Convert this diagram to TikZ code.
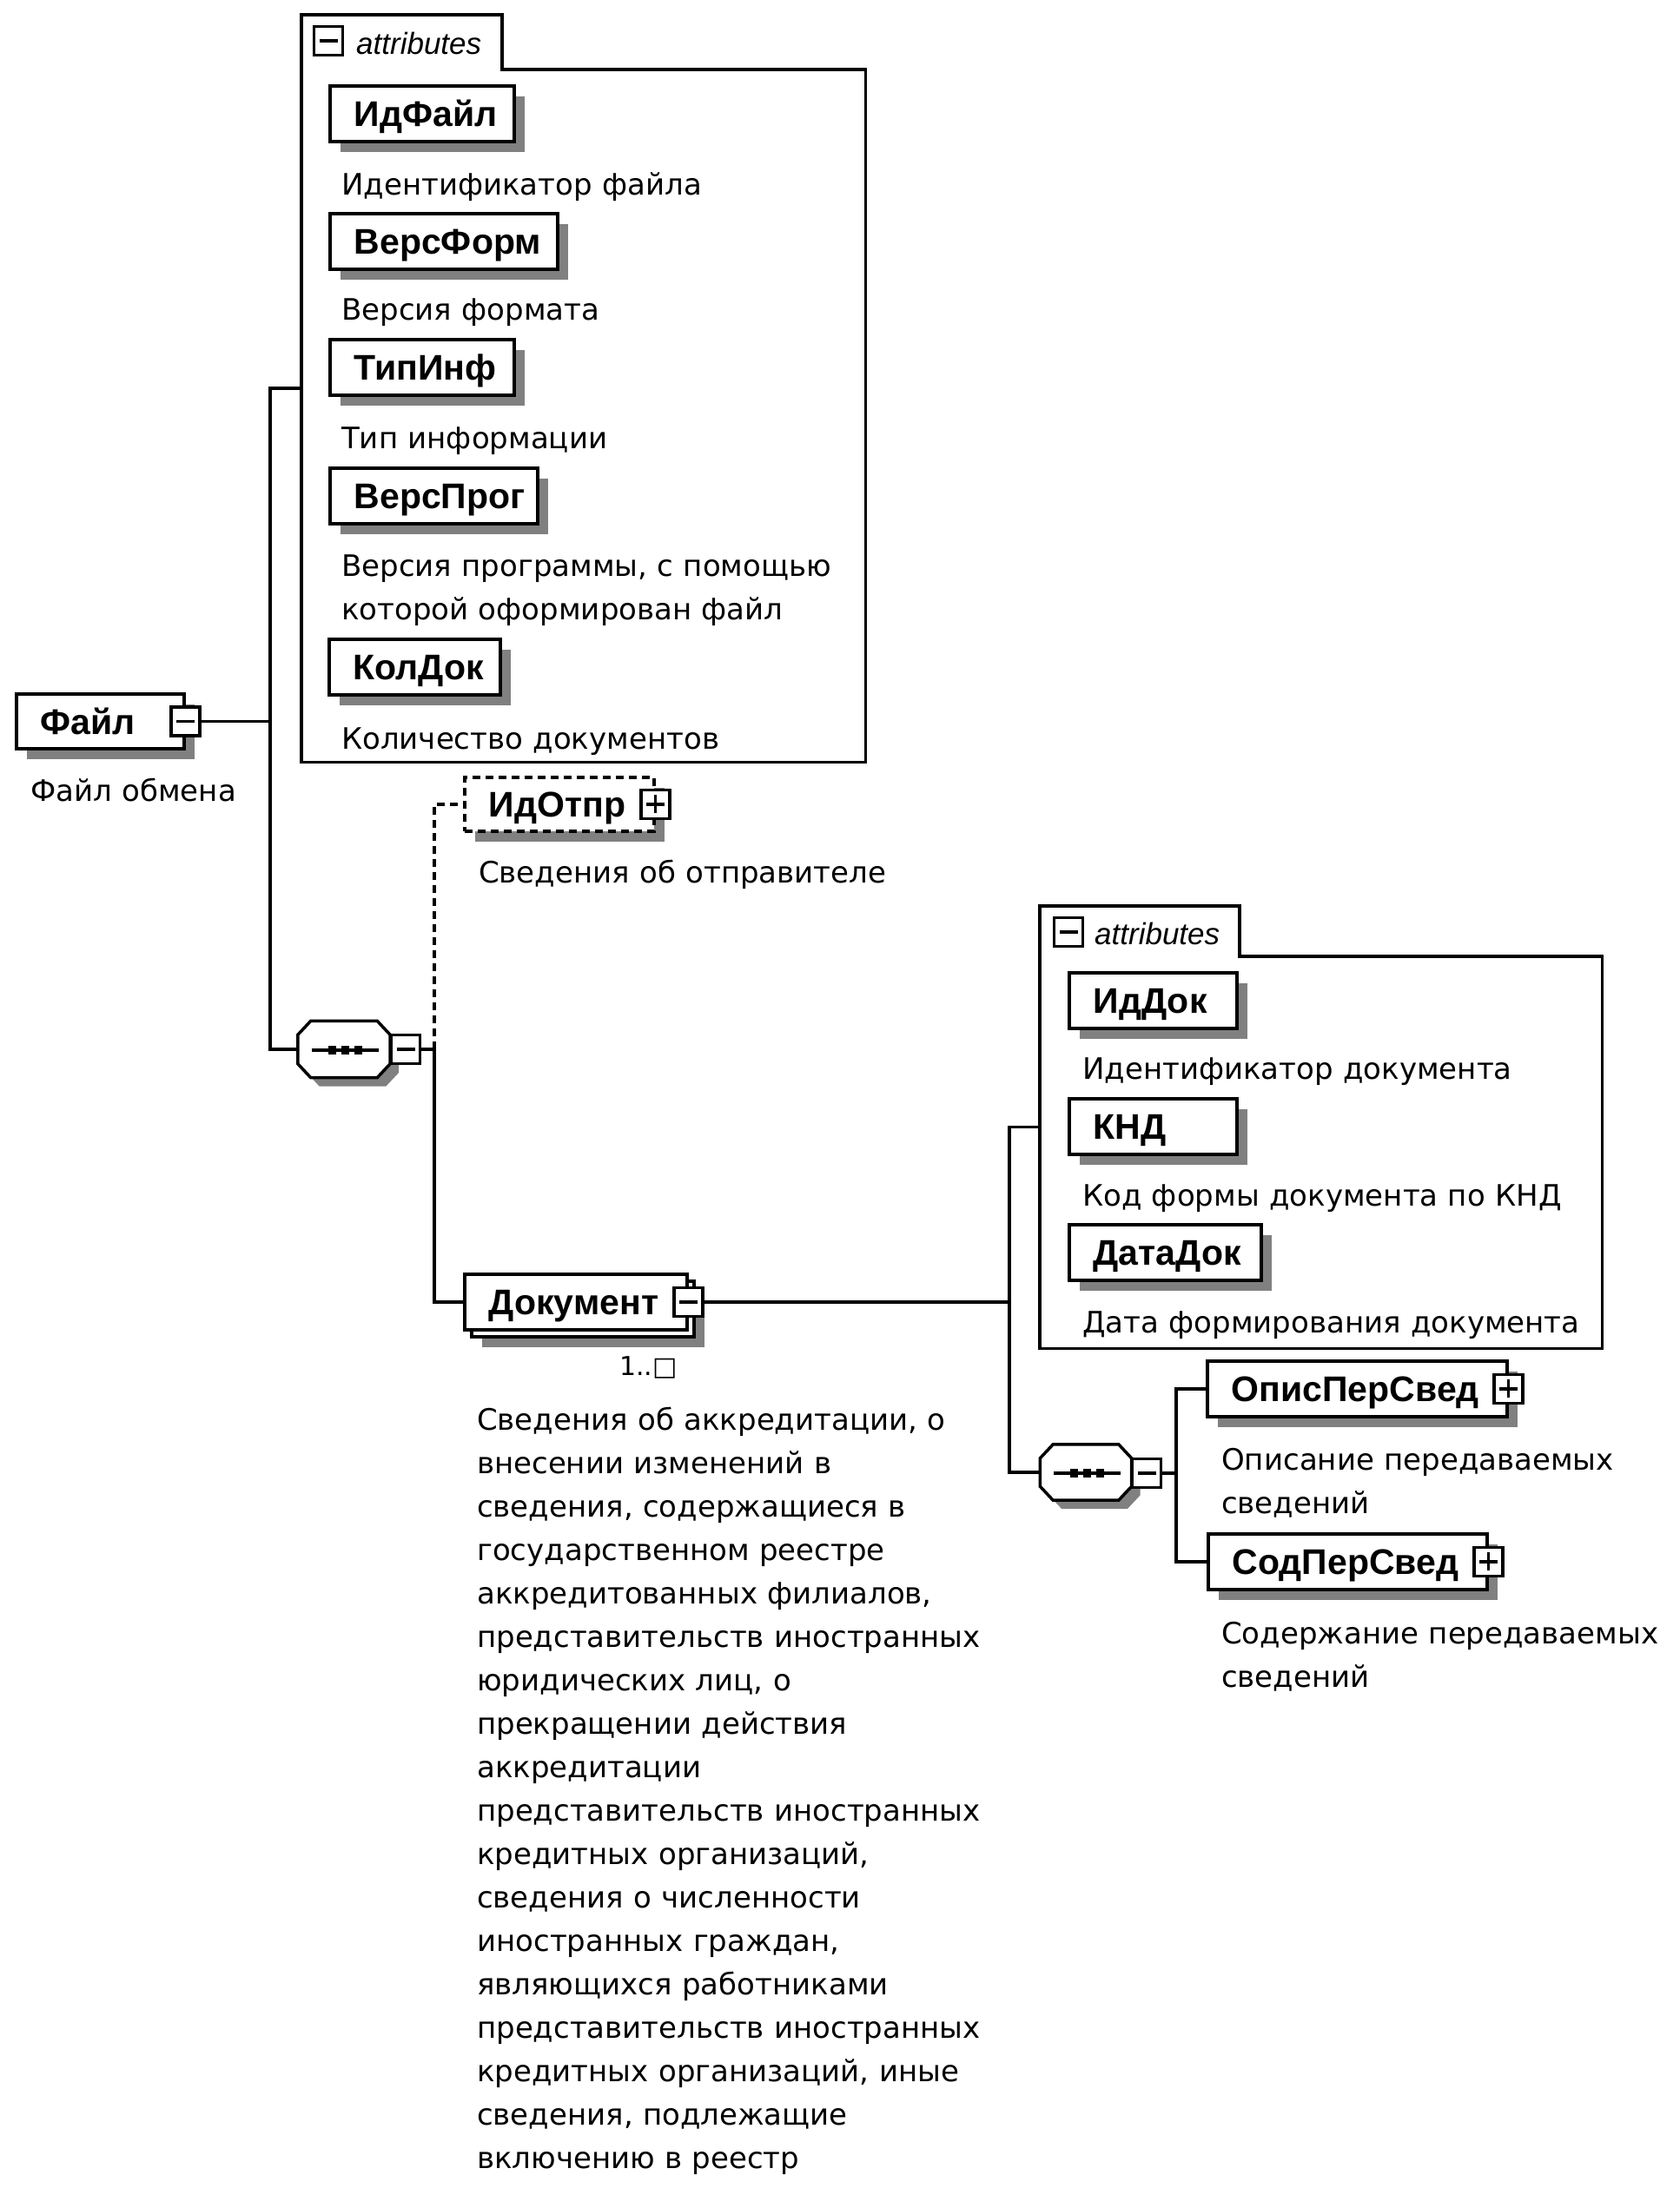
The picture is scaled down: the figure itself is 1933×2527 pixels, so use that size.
\documentclass[tikz,border=0pt]{standalone}
\usepackage{fontspec}
\setmainfont{DejaVu Sans}
\newfontfamily\nmfont{Liberation Sans}
\usetikzlibrary{calc,shadows}
\tikzset{
  ln/.style={line width=3.5pt},
  shd/.style={general shadow={fill=black!50, shadow xshift=12pt, shadow yshift=-12pt}},
  elem/.style={draw, line width=3.5pt, fill=white, anchor=north west, inner sep=0pt,
    minimum height=64pt, text width=#1, align=left,
    font=\nmfont\bfseries\fontsize{41pt}{41pt}\selectfont,
    text height=30pt, text depth=0pt, execute at begin node={\noindent\hspace*{28pt}}},
  desc/.style={anchor=north west, inner sep=0pt, text width=#1, align=left,
    font=\fontsize{34pt}{50pt}\selectfont,
    execute at begin node={\noindent\rule{0pt}{30pt}}},
  desc/.default=600pt,
  icon/.style={draw, line width=3.5pt, fill=white, minimum size=33pt, inner sep=0pt},
  minus/.style={icon, path picture={\draw[line width=3.5pt]
      ($(path picture bounding box.west)+(6,0)$) -- ($(path picture bounding box.east)+(-6,0)$);}},
  plus/.style={icon, path picture={\draw[line width=3.5pt]
      ($(path picture bounding box.west)+(6,0)$) -- ($(path picture bounding box.east)+(-6,0)$)
      ($(path picture bounding box.north)+(0,6)$) -- ($(path picture bounding box.south)+(0,-6)$);}},
  attr/.style={anchor=base west, inner sep=0pt, font=\nmfont\itshape\fontsize{35pt}{35pt}\selectfont},
  seqn/.style={inner sep=0pt, minimum width=106pt, minimum height=65pt},
  cont/.style={inner sep=0pt, anchor=north west},
  dsh/.style={dash pattern=on 9pt off 6pt}
}
\newcommand\octagon[1]{%
  \fill[black!50, transform canvas={xshift=10pt,yshift=-10pt}]
    ($(#1.north west)+(15,0)$) -- ($(#1.north east)+(-15,0)$) -- ($(#1.north east)+(0,16)$) --
    ($(#1.south east)+(0,-16)$) -- ($(#1.south east)+(-15,0)$) -- ($(#1.south west)+(15,0)$) --
    ($(#1.south west)+(0,-16)$) -- ($(#1.north west)+(0,16)$) -- cycle;
  \draw[ln, fill=white]
    ($(#1.north west)+(15,0)$) -- ($(#1.north east)+(-15,0)$) -- ($(#1.north east)+(0,16)$) --
    ($(#1.south east)+(0,-16)$) -- ($(#1.south east)+(-15,0)$) -- ($(#1.south west)+(15,0)$) --
    ($(#1.south west)+(0,-16)$) -- ($(#1.north west)+(0,16)$) -- cycle;
  \draw[ln] ($(#1.center)+(-37,1)$) -- ($(#1.center)+(40,1)$);
  \foreach \dx in {-14,1,16} {\fill ($(#1.center)+(\dx-4.5,-4)$) rectangle ($(#1.center)+(\dx+4.5,6)$);}
}
\begin{document}
\begin{tikzpicture}[x=1pt,y=-1pt]
\fill[white] (0,0) rectangle (1933,2527);
\useasboundingbox (0,0) rectangle (1933,2527);

% ---------- attributes container 1 ----------
\node[cont, minimum width=649pt, minimum height=860pt] (a1) at (347,17) {};
\draw[ln] (a1.south west) -- (a1.north west) -- ++(231,0) -- ++(0,63) -| (a1.south east) -- cycle;
\node[minus] (a1i) at (378,47) {};
\node[attr] (a1t) at (410,62) {attributes};

\node[elem=212pt, shd] (e1) at (378,97) {ИдФайл};
\node[desc] (e1d) at (393,194) {Идентификатор файла};
\node[elem=262pt, shd] (e2) at (378,244) {ВерсФорм};
\node[desc] (e2d) at (393,338) {Версия формата};
\node[elem=212pt, shd] (e3) at (378,389) {ТипИнф};
\node[desc] (e3d) at (393,486) {Тип информации};
\node[elem=239pt, shd] (e4) at (378,537) {ВерсПрог};
\node[desc] (e4d) at (393,633) {Версия программы, с помощью\\которой оформирован файл};
\node[elem=197pt, shd] (e5) at (377,734) {КолДок};
\node[desc] (e5d) at (393,832) {Количество документов};

% ---------- root ----------
\node[elem=193pt, shd, minimum height=63pt] (f) at (17,797) {Файл};
\node[minus] (fi) at (f.east) {};
\node[desc] (fd) at (35,892) {Файл обмена};

% ---------- sequence 1 ----------
\node[seqn] (s1) at (396,1208) {};
\octagon{s1}
\node[minus] (si1) at (467,1208) {};

% ---------- ИдОтпр ----------
\node[elem=218pt, shd, dsh, minimum height=62pt] (io) at (533,893) {ИдОтпр};
\node[plus] (ioi) at (io.east) {};
\node[desc] (iod) at (551,986) {Сведения об отправителе};

% ---------- Документ ----------
\node[draw, line width=3.5pt, fill=white, anchor=north west, inner sep=0pt,
      minimum width=256pt, minimum height=64pt, shd] (dback) at (541,1473) {};
\node[elem=256pt] (d) at (533,1465) {Документ};
\node[minus] (di) at (d.east) {};
\node[anchor=base west, inner sep=0pt, font=\fontsize{30pt}{30pt}\selectfont] (dm) at (713,1583) {1..□};
\node[desc=700pt] (dd) at (549,1616) {Сведения об аккредитации, о\\внесении изменений в\\сведения, содержащиеся в\\государственном реестре\\аккредитованных филиалов,\\представительств иностранных\\юридических лиц, о\\прекращении действия\\аккредитации\\представительств иностранных\\кредитных организаций,\\сведения о численности\\иностранных граждан,\\являющихся работниками\\представительств иностранных\\кредитных организаций, иные\\сведения, подлежащие\\включению в реестр};

% ---------- attributes container 2 ----------
\node[cont, minimum width=647pt, minimum height=509pt] (a2) at (1197,1043) {};
\draw[ln] (a2.south west) -- (a2.north west) -- ++(230,0) -- ++(0,58) -| (a2.south east) -- cycle;
\node[minus] (a2i) at (1230,1073) {};
\node[attr] (a2t) at (1260,1087) {attributes};

\node[elem=193pt, shd] (k1) at (1229,1118) {ИдДок};
\node[desc] (k1d) at (1246,1212) {Идентификатор документа};
\node[elem=193pt, shd] (k2) at (1229,1263) {КНД};
\node[desc] (k2d) at (1246,1358) {Код формы документа по КНД};
\node[elem=221pt, shd] (k3) at (1229,1408) {ДатаДок};
\node[desc] (k3d) at (1246,1504) {Дата формирования документа};

% ---------- sequence 2 ----------
\node[seqn, minimum width=105pt, minimum height=64pt] (s2) at (1250,1695) {};
\octagon{s2}
\node[minus] (si2) at (1320,1696) {};

\node[elem=345pt, shd] (op) at (1388,1565) {ОписПерСвед};
\node[plus] (opi) at (op.east) {};
\node[desc=520pt] (opd) at (1406,1662) {Описание передаваемых\\сведений};
\node[elem=321pt, shd] (sp) at (1389,1764) {СодПерСвед};
\node[plus] (spi) at (sp.east) {};
\node[desc=520pt] (spd) at (1406,1862) {Содержание передаваемых\\сведений};

% ---------- connectors ----------
\coordinate (b1) at (311,0);
\coordinate (b2) at (500,0);
\coordinate (b3) at (1162,0);
\coordinate (b4) at (1354,0);
\draw[ln] (fi.east) -- (fi.east -| b1);
\draw[ln] (a1.west) -- (a1.west -| b1) |- (s1.west);
\draw[ln] (si1.east) -- (si1.east -| b2) |- (d.west);
\draw[ln, dsh] (si1.east -| b2) |- (io.west);
\draw[ln] (di.east) -- (di.east -| b3);
\draw[ln] (a2.west) -- (a2.west -| b3) |- (s2.west);
\draw[ln] (si2.east) -- (si2.east -| b4);
\draw[ln] (op.west) -- (op.west -| b4) |- (sp.west);
\end{tikzpicture}
\end{document}
